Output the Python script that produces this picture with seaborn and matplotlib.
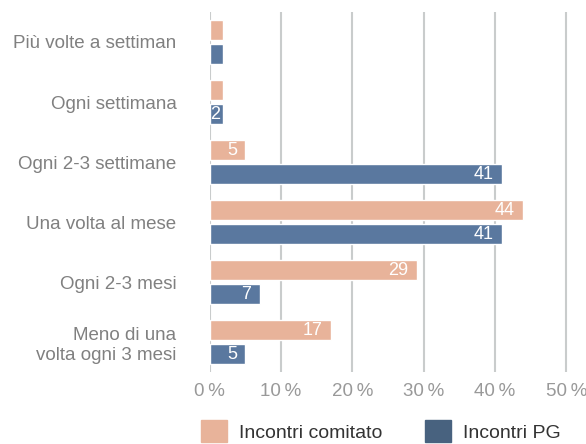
import matplotlib
matplotlib.use("Agg")
import matplotlib.pyplot as plt
from matplotlib.patches import Patch
import seaborn as sns
import pandas as pd

# data (percent)
categories = ["Più volte a settiman", "Ogni settimana", "Ogni 2-3 settimane",
              "Una volta al mese", "Ogni 2-3 mesi", "Meno di una\nvolta ogni 3 mesi"]
comitato = [1.8, 1.8, 5, 44, 29, 17]
pg = [1.8, 1.8, 41, 41, 7, 5]
comitato_labels = ["", "", "5", "44", "29", "17"]
pg_labels = ["", "2", "41", "41", "7", "5"]
series = ["Incontri comitato", "Incontri PG"]
xticks = [0, 10, 20, 30, 40, 50]

c_com = "#E8B39A"
c_pg = "#5A789F"
c_pg_leg = "#48627F"

df = pd.DataFrame({
    "cat": categories * 2,
    "val": comitato + pg,
    "serie": [series[0]] * len(categories) + [series[1]] * len(categories),
})

sns.set_style("white")
plt.rcParams["font.family"] = ["Liberation Sans", "DejaVu Sans"]

fig = plt.figure(figsize=(5.86, 4.44), dpi=100)
ax = fig.add_axes([0.358, 0.162, 0.635, 0.811])

sns.barplot(data=df, y="cat", x="val", hue="serie", orient="h",
            palette=[c_com, c_pg], saturation=1, width=0.8, gap=0.15,
            dodge=True, legend=False, ax=ax, zorder=3)

for cont, labs in zip(ax.containers, [comitato_labels, pg_labels]):
    txts = ax.bar_label(cont, labels=labs, padding=-6, color="white",
                        fontsize=13)
    for t in txts:
        t.set_ha("right")
# the tiny "2" bar: put the label at the bar start
for t in ax.texts:
    if t.get_text() == "2":
        t.set_ha("left")
        t.xy = (0, t.xy[1])
        t.xyann = (0.5, 0)

ax.set_xlim(0, 52.2)
ax.set_ylim(5.5, -0.5)
ax.set_xticks(xticks)
ax.set_xticklabels([f"{v}\u2009%" for v in xticks], color="#999999", fontsize=13.5)
ax.tick_params(axis="x", length=0, pad=8)
ax.tick_params(axis="y", length=0, pad=24, labelsize=13.5, labelcolor="#808080")
ax.set_xlabel("")
ax.set_ylabel("")
ax.grid(axis="x", color="#c9cccc", linewidth=1.5, zorder=0)
for s in ax.spines.values():
    s.set_visible(False)

handles = [Patch(color=c_com), Patch(color=c_pg_leg)]
fig.legend(handles, series, loc="lower center", bbox_to_anchor=(0.65, -0.035),
           ncol=2, frameon=False, fontsize=14, handlelength=1.35,
           handleheight=1.35, columnspacing=2.2, handletextpad=0.6,
           labelcolor="#333333")

fig.savefig("out.png", dpi=100)
